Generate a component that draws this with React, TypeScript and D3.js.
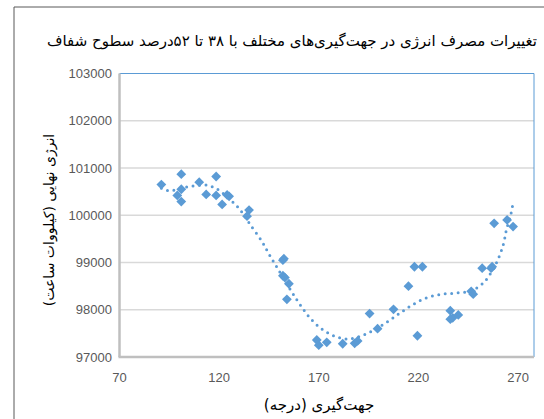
import React from 'react';
import * as d3 from 'd3';

// scatter values: orientation (deg) / energy (kWh)
const angles = [
  91, 101, 101, 99, 101, 110, 118.5, 113.5, 118.5, 121.5, 124, 125, 135, 134,
  152, 152.5, 152, 153, 155, 154, 169, 170, 174, 182, 188, 189.5, 195.5, 199.5, 207.5,
  215, 218, 222, 219.5, 236, 236, 237.2, 240, 246.5, 247.5, 252, 256.5, 257, 258, 264.5, 267.5,
];
const energy = [
  100650, 100870, 100550, 100420, 100290, 100700, 100820, 100440, 100420, 100230, 100430, 100400, 100110, 99980,
  99050, 99080, 98720, 98680, 98550, 98220, 97360, 97250, 97310, 97280, 97290, 97340, 97920, 97600, 98010,
  98500, 98910, 98910, 97450, 97980, 97800, 97830, 97890, 98390, 98330, 98880, 98880, 98910, 99830, 99900, 99760,
];

// polynomial trendline
const trendX = [
  91, 94.5, 105.5, 113, 116.7, 120, 128, 131, 135, 141.4, 145, 149, 156.7, 161, 165.5, 170.9, 177.5, 184.5,
  191.9, 198.5, 205, 211, 217.4, 224.2, 231.4, 238.7, 246, 252.5, 257, 260.2, 262.7, 264.2, 266.4, 267.7,
];
const trendY = [
  100570, 100520, 100610, 100640, 100600, 100530, 100230, 100090, 99840, 99450, 99180, 98900, 98360, 98085, 97830, 97613, 97450, 97380,
  97459, 97592, 97761, 97937, 98114, 98254, 98326, 98353, 98395, 98565, 98825, 99093, 99396, 99700, 100023, 100315,
];

const xTicks = [70, 120, 170, 220, 270];
const yTicks = [97000, 98000, 99000, 100000, 101000, 102000, 103000];

const title = 'تغییرات مصرف انرژی در جهت‌گیری‌های مختلف با ۳۸ تا ۵۲درصد سطوح شفاف';
const xTitle = 'جهت‌گیری (درجه)';
const yTitle = 'انرژی نهایی (کیلووات ساعت)';

const W = 544;
const H = 419;
const left = 119.5;
const right = 534;
const top = 73.5;
const bottom = 357;

const blue = '#5B9BD5';
const faFont = '"DejaVu Sans", sans-serif';
const numFont = '"Liberation Sans", Arial, sans-serif';

export default function App() {
  const x = d3.scaleLinear().domain([70, 278]).range([left, right]);
  const y = d3.scaleLinear().domain([97000, 103000]).range([bottom, top]);

  const trend = d3
    .line<number>()
    .x((d) => x(d))
    .y((_, i) => y(trendY[i]))
    .curve(d3.curveCatmullRom)(trendX);

  const diamond = d3.symbol().type(d3.symbolSquare).size(48)();

  return (
    <svg width={W} height={H} style={{ position: 'absolute', left: 0, top: 0, background: '#fff' }}>
      {/* chart frame */}
      <line x1={14} x2={W} y1={7} y2={7} stroke="#595959" />
      <line x1={14} x2={14} y1={7} y2={H} stroke="#595959" />

      <text
        x={292}
        y={46}
        textAnchor="middle"
        direction="rtl"
        fontFamily={faFont}
        fontSize={15}
        textLength={490}
        lengthAdjust="spacingAndGlyphs"
        fill="#000"
      >
        {title}
      </text>

      {/* grid */}
      {yTicks.slice(1, -1).map((t) => (
        <line key={t} x1={left} x2={right} y1={y(t)} y2={y(t)} stroke="#D9D9D9" strokeWidth={1.5} />
      ))}
      <line x1={left} x2={right} y1={top} y2={top} stroke={blue} strokeWidth={1} />
      <line x1={right} x2={right} y1={top} y2={bottom} stroke={blue} strokeWidth={1} />

      {/* axes */}
      <line x1={left} x2={left} y1={top} y2={bottom} stroke="#BFBFBF" strokeWidth={2.5} />
      <line x1={left - 1} x2={right} y1={bottom} y2={bottom} stroke="#BFBFBF" strokeWidth={2.5} />

      {yTicks.map((t) => (
        <text key={t} x={112} y={y(t) + 4.5} textAnchor="end" fontFamily={numFont} fontSize={13} fill="#595959">
          {t}
        </text>
      ))}
      {xTicks.map((t) => (
        <text key={t} x={x(t)} y={382} textAnchor="middle" fontFamily={numFont} fontSize={13} fill="#595959">
          {t}
        </text>
      ))}

      <text x={319} y={410} textAnchor="middle" direction="rtl" fontFamily={faFont} fontSize={15} fill="#000">
        {xTitle}
      </text>
      <text
        transform={`translate(54,220) rotate(-90)`}
        textAnchor="middle"
        direction="rtl"
        fontFamily={faFont}
        fontSize={14}
        fill="#000"
      >
        {yTitle}
      </text>

      {/* points */}
      {angles.map((a, i) => (
        <path
          key={i}
          d={diamond || ''}
          transform={`translate(${x(a)},${y(energy[i])}) rotate(45)`}
          fill={blue}
        />
      ))}

      {/* trendline */}
      <path
        d={trend || ''}
        fill="none"
        stroke={blue}
        strokeWidth={3}
        strokeLinecap="round"
        strokeDasharray="0 6.5"
      />
    </svg>
  );
}
